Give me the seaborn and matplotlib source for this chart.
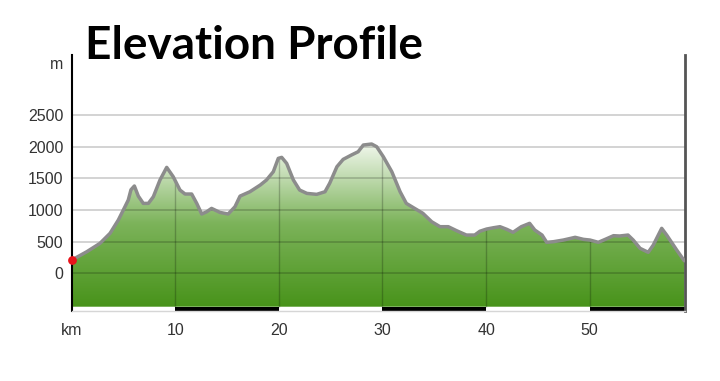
import numpy as np
import pandas as pd
import matplotlib
matplotlib.use("Agg")
import matplotlib.pyplot as plt
from matplotlib.colors import LinearSegmentedColormap
import seaborn as sns

# ---- data ----
km = [0.0, 1.45, 2.73, 3.7, 4.5, 5.14, 5.46, 5.72, 6.05, 6.43, 6.91, 7.4, 7.88, 8.52, 9.17,
      9.8, 10.45, 10.94, 11.58, 12.07, 12.55, 13.03, 13.5, 14.3, 15.1, 15.76, 16.25, 17.2,
      18.2, 18.8, 19.46, 19.94, 20.27, 20.75, 21.4, 22.0, 22.7, 23.65, 24.45, 24.9, 25.6,
      26.2, 27.0, 27.65, 28.15, 28.95, 29.44, 30.08, 30.9, 31.7, 32.3, 33.1, 33.9, 34.75,
      35.55, 36.35, 37.16, 38.1, 38.9, 39.4, 40.05, 40.7, 41.34, 42.0, 42.6, 43.4, 44.2,
      44.7, 45.4, 45.85, 46.5, 47.45, 48.6, 49.4, 50.03, 50.83, 51.5, 52.3, 52.9, 53.7,
      54.2, 54.86, 55.65, 56.14, 56.95, 57.43, 58.4, 59.13]
elev = [210, 341, 474, 632, 842, 1052, 1158, 1320, 1380, 1220, 1105, 1105, 1210, 1474, 1674,
        1526, 1316, 1253, 1253, 1105, 937, 973, 1026, 963, 937, 1052, 1220, 1289,
        1395, 1474, 1605, 1816, 1832, 1737, 1474, 1316, 1263, 1248, 1289, 1422, 1684,
        1800, 1869, 1921, 2027, 2043, 2000, 1842, 1605, 1289, 1105, 1026, 948, 815,
        737, 737, 673, 605, 605, 665, 700, 720, 737, 695, 648, 737, 790,
        684, 605, 490, 500, 526, 569, 537, 526, 490, 537, 595, 590, 605,
        526, 395, 332, 447, 711, 605, 368, 199]
y_ticks = [0, 500, 1000, 1500, 2000, 2500]
x_ticks = [0, 10, 20, 30, 40, 50]
x_labels = ["km", "10", "20", "30", "40", "50"]
bar_segments = [(10, 20), (30, 40), (50, 59.2)]
title = "Elevation Profile"

df = pd.DataFrame({"km": km, "elev": elev})

sns.set_style("white")
plt.rcParams["font.family"] = ["Liberation Sans", "DejaVu Sans"]

W, H = 720, 381
fig = plt.figure(figsize=(W / 100, H / 100), dpi=100)
x0, x1 = 71.7, 685.0
ytop, ybot = 55.0, 310.7
ax = fig.add_axes([x0 / W, 1 - ybot / H, (x1 - x0) / W, (ybot - ytop) / H])

XMAX = 59.2
YMIN, YMAX = -590, 3449
FILL_BOTTOM = -527
ax.set_xlim(0, XMAX)
ax.set_ylim(YMIN, YMAX)

# gradient fill clipped to the profile
poly = ax.fill_between(df["km"], df["elev"], FILL_BOTTOM, color="none", lw=0, zorder=1)
cmap = LinearSegmentedColormap.from_list("g", ["#48931a", "#7cb35a", "#f6faf3"])
grad = np.linspace(0, 1, 256).reshape(-1, 1)
im = ax.imshow(grad, cmap=cmap, aspect="auto", origin="lower",
               extent=[0, XMAX, FILL_BOTTOM, 2100], zorder=1)
path = poly.get_paths()[0]
im.set_clip_path(path, transform=ax.transData)

# vertical lines inside the fill
xv = np.array(x_ticks[1:], dtype=float)
ax.vlines(xv, FILL_BOTTOM, np.interp(xv, df["km"], df["elev"]),
          colors="black", alpha=0.22, lw=1.0, zorder=1.6)

# profile line
sns.lineplot(data=df, x="km", y="elev", ax=ax, color="#8c8c8c", lw=2.5, zorder=3,
             solid_joinstyle="round", solid_capstyle="round")

# start marker
ax.scatter([km[0]], [elev[0]], s=40, color="#e8141b", zorder=5, clip_on=False, lw=0)

# bottom bar
for a, b in bar_segments:
    ax.fill_between([a, b], YMIN, FILL_BOTTOM, color="black", lw=0, zorder=2)

# grid
ax.set_yticks(y_ticks)
ax.yaxis.grid(True, color="black", alpha=0.19, lw=1.3)
ax.xaxis.grid(False)
ax.set_axisbelow("line")

ax.set_xticks(x_ticks)
ax.set_xticklabels(x_labels)
ax.tick_params(axis="both", length=0, labelsize=11.5, labelcolor="#333333")
ax.tick_params(axis="y", pad=6)
ax.tick_params(axis="x", pad=9)
ax.set_xlabel("")
ax.set_ylabel("")

ax.text(-0.0135, 3306, "m", transform=ax.get_yaxis_transform(), ha="right", va="center",
        fontsize=11.5, color="#333333")

# spines
ax.spines["top"].set_visible(False)
ax.spines["left"].set_color("black")
ax.spines["left"].set_linewidth(1.5)
ax.spines["right"].set_color("#555555")
ax.spines["right"].set_linewidth(2)
ax.spines["bottom"].set_color("#d6d6d6")
ax.spines["bottom"].set_linewidth(1)

fig.text(85 / W, 1 - 59.3 / H, title, fontsize=33, fontweight="bold",
         family=["Lato", "DejaVu Sans"], color="black", ha="left", va="baseline")

fig.savefig("out.png", dpi=100)
